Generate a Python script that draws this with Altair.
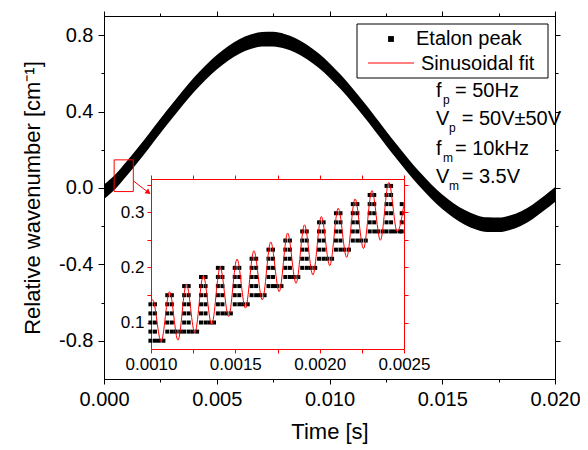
import altair as alt
import pandas as pd

FONT = "Liberation Sans"
RED = "#ff0000"

# ---------------- main trace (centre of the etalon-peak band, read every 0.5 ms) ----------------
main_t = [0.0, 0.0005, 0.001, 0.0015, 0.002, 0.0025, 0.003, 0.0035, 0.004, 0.0045,
          0.005, 0.0055, 0.006, 0.0065, 0.007, 0.0075, 0.008, 0.0085, 0.009, 0.0095,
          0.010, 0.0105, 0.011, 0.0115, 0.012, 0.0125, 0.013, 0.0135, 0.014, 0.0145,
          0.015, 0.0155, 0.016, 0.0165, 0.017, 0.0175, 0.018, 0.0185, 0.019, 0.0195, 0.020]
main_center = [-0.020, 0.032, 0.100, 0.172, 0.247, 0.324, 0.399, 0.472, 0.541, 0.603,
               0.658, 0.704, 0.740, 0.765, 0.778, 0.779, 0.768, 0.746, 0.712, 0.668,
               0.615, 0.554, 0.486, 0.414, 0.339, 0.262, 0.187, 0.114, 0.045, -0.017,
               -0.072, -0.118, -0.154, -0.179, -0.192, -0.193, -0.182, -0.160, -0.126, -0.082, -0.035]
band_half_width = 0.038   # half thickness of the modulated band

# zoom box and arrow in the main panel
zoom_box_t = [0.00045, 0.0013]
zoom_box_v = [-0.019, 0.147]
arrow_t = [0.0013, 0.00197]
arrow_v = [0.037, -0.024]

# ---------------- inset readings ----------------
inset_start = [0.0010, 0.138]
inset_end = [0.0025, 0.315]
inset_peak_t = [0.00101, 0.00111, 0.00121, 0.00131, 0.00141, 0.00151, 0.00161, 0.00171,
                0.00181, 0.00191, 0.00201, 0.00211, 0.00221, 0.00231, 0.00241]
inset_peak_v = [0.141, 0.156, 0.170, 0.185, 0.200, 0.215, 0.230, 0.246,
                0.262, 0.277, 0.292, 0.307, 0.324, 0.339, 0.354]
inset_trough_t = [0.00106, 0.00116, 0.00126, 0.00136, 0.00146, 0.00156, 0.00166, 0.00176,
                  0.00186, 0.00196, 0.00206, 0.00216, 0.00226, 0.00236, 0.00246]
inset_trough_v = [0.0656, 0.068, 0.081, 0.096, 0.111, 0.126, 0.141, 0.156,
                  0.171, 0.186, 0.203, 0.218, 0.234, 0.249, 0.2645]
# quantised wavenumber rows on which the etalon-peak squares sit
dot_levels = [0.067, 0.0835, 0.100, 0.1165, 0.133, 0.1495, 0.166, 0.1825, 0.199,
              0.2155, 0.232, 0.2485, 0.265, 0.2815, 0.298, 0.3145, 0.331, 0.3475]
dot_pair_dt = 0.0000135   # the squares come in side-by-side pairs

# text
legend_labels = ["Etalon peak", "Sinusoidal fit"]
ann_symbol = ["f", "V", "f", "V"]
ann_sub = ["p", "p", "m", "m"]
ann_rest = ["= 50Hz", "= 50V\u00b150V", "= 10kHz", "= 3.5V"]

# ---------------- tables ----------------
main_df = pd.DataFrame({"t": main_t, "c": main_center})
main_df["lo"] = main_df["c"] - band_half_width
main_df["hi"] = main_df["c"] + band_half_width

fit_t = [inset_start[0]]
fit_v = [inset_start[1]]
for pt, pv, tt, tv in zip(inset_peak_t, inset_peak_v, inset_trough_t, inset_trough_v):
    fit_t += [pt, tt]
    fit_v += [pv, tv]
fit_t.append(inset_end[0])
fit_v.append(inset_end[1])
fit_df = pd.DataFrame({"t": fit_t, "v": fit_v})

# squares: a vertical ladder of pairs under every peak (rows between the following
# trough and the peak), plus one pair at the bottom of every valley
dots = []
for k, (pt, pv) in enumerate(zip(inset_peak_t, inset_peak_v)):
    floor = inset_trough_v[k]
    for L in dot_levels:
        if floor < L < pv:
            dots.append({"t": pt - dot_pair_dt, "v": L})
            dots.append({"t": pt + dot_pair_dt, "v": L})
for tt, tv in zip(inset_trough_t, inset_trough_v):
    above = [L for L in dot_levels if L > tv]
    dots.append({"t": tt - dot_pair_dt, "v": above[0]})
    dots.append({"t": tt + dot_pair_dt, "v": above[0]})
for L in dot_levels:
    if inset_trough_v[-1] < L < inset_end[1]:
        dots.append({"t": inset_end[0] - dot_pair_dt, "v": L})
dots_df = pd.DataFrame(dots)

# ---------------- scales ----------------
xs = alt.Scale(domain=[0, 0.02], nice=False, zero=False)
ys = alt.Scale(domain=[-1.0, 0.9], nice=False, zero=False)
ixs = alt.Scale(domain=[0.001, 0.0025], range=[47, 300], nice=False, zero=False)
iys = alt.Scale(domain=[0.052, 0.36], range=[333, 163], nice=False, zero=False)

common = dict(grid=False, domainColor="black", tickColor="black", domainWidth=1, tickWidth=1,
              labelFont=FONT, labelColor="black", labelFontSize=20, titleFont=FONT,
              titleFontSize=22, titleFontWeight="normal", titleColor="black",
              labelFlush=False, labelOverlap=False)

x_major = [0, 0.005, 0.01, 0.015, 0.02]
x_minor = [0.0025, 0.0075, 0.0125, 0.0175]
y_major = [-0.8, -0.4, 0, 0.4, 0.8]
y_minor = [-0.6, -0.2, 0.2, 0.6]

ax_b_major = alt.Axis(orient="bottom", values=x_major, format=".3f", tickSize=5, labelPadding=5,
                      title="Time [s]", titlePadding=12, **common)
ax_l_major = alt.Axis(orient="left", values=y_major, tickSize=6, labelPadding=5,
                      labelExpr="replace(format(datum.value, '.1f'), '\u2212', '-')",
                      title="Relative wavenumber [cm\u207b\u00b9]", titlePadding=14, **common)
ax_b_minor = alt.Axis(orient="bottom", values=x_minor, tickSize=3, labels=False, title=None, **common)
ax_l_minor = alt.Axis(orient="left", values=y_minor, tickSize=3, labels=False, title=None, **common)
ax_t_major = alt.Axis(orient="top", values=x_major, tickSize=5, labels=False, title=None, **common)
ax_r_major = alt.Axis(orient="right", values=y_major, tickSize=5, labels=False, title=None, **common)
ax_t_minor = alt.Axis(orient="top", values=x_minor, tickSize=3, labels=False, title=None, **common)
ax_r_minor = alt.Axis(orient="right", values=y_minor, tickSize=3, labels=False, title=None, **common)

band = alt.Chart(main_df).mark_area(color="black", interpolate="monotone").encode(
    x=alt.X("t:Q", scale=xs, axis=ax_b_major),
    y=alt.Y("lo:Q", scale=ys, axis=ax_l_major),
    y2="hi:Q",
)


def axis_layer(xa, ya):
    return alt.Chart(main_df).mark_line(opacity=0).encode(
        x=alt.X("t:Q", scale=xs, axis=xa),
        y=alt.Y("c:Q", scale=ys, axis=ya),
    )


zoom_df = pd.DataFrame({"t0": [zoom_box_t[0]], "t1": [zoom_box_t[1]],
                        "v0": [zoom_box_v[0]], "v1": [zoom_box_v[1]]})
zoom_rect = alt.Chart(zoom_df).mark_rect(fillOpacity=0, stroke=RED, strokeWidth=1).encode(
    x=alt.X("t0:Q", scale=xs, axis=None), x2="t1:Q",
    y=alt.Y("v0:Q", scale=ys, axis=None), y2="v1:Q",
)
arrow_df = pd.DataFrame({"t": arrow_t, "v": arrow_v})
arrow_line = alt.Chart(arrow_df).mark_line(color=RED, strokeWidth=1).encode(
    x=alt.X("t:Q", scale=xs, axis=None), y=alt.Y("v:Q", scale=ys, axis=None))
arrow_head = alt.Chart(arrow_df.tail(1)).mark_point(
    shape="triangle-up", filled=True, color=RED, opacity=1, size=36, angle=127).encode(
    x=alt.X("t:Q", scale=xs, axis=None), y=alt.Y("v:Q", scale=ys, axis=None))

main_layer = alt.layer(
    band,
    axis_layer(ax_b_minor, ax_l_minor),
    axis_layer(ax_t_major, ax_r_major),
    axis_layer(ax_t_minor, ax_r_minor),
    zoom_rect, arrow_line, arrow_head,
).resolve_axis(x="independent", y="independent")

# ---------------- inset ----------------
icommon = dict(common)
icommon.update(domainColor=RED, tickColor=RED, labelFontSize=17, tickSize=4)
ix_vals = [0.001, 0.00125, 0.0015, 0.00175, 0.002, 0.00225, 0.0025]
iy_vals = [0.1, 0.15, 0.2, 0.25, 0.3, 0.35]
ix_expr = ("indexof(['0.0010','0.0015','0.0020','0.0025'], format(datum.value, '.4f')) >= 0"
           " ? format(datum.value, '.4f') : ''")
iy_expr = ("indexof(['0.10','0.20','0.30'], format(datum.value, '.2f')) >= 0"
           " ? format(datum.value, '.1f') : ''")

inset_dots = alt.Chart(dots_df).mark_point(shape="square", filled=True, color="black",
                                           opacity=1, size=16).encode(
    x=alt.X("t:Q", scale=ixs, axis=alt.Axis(orient="bottom", offset=-30, values=ix_vals,
                                             labelExpr=ix_expr, labelPadding=3, title=None, **icommon)),
    y=alt.Y("v:Q", scale=iys, axis=alt.Axis(orient="left", offset=-47, values=iy_vals,
                                             labelExpr=iy_expr, labelPadding=3, title=None, **icommon)),
)
inset_fit = alt.Chart(fit_df).mark_line(color=RED, strokeWidth=1, interpolate="monotone").encode(
    x=alt.X("t:Q", scale=ixs, axis=alt.Axis(orient="top", offset=-163, values=ix_vals,
                                             labels=False, title=None, **icommon)),
    y=alt.Y("v:Q", scale=iys, axis=alt.Axis(orient="right", offset=-151, values=iy_vals,
                                             labels=False, title=None, **icommon)),
)
inset_layer = alt.layer(inset_dots, inset_fit).resolve_axis(x="independent", y="independent")

# ---------------- legend and annotations ----------------
one = pd.DataFrame({"k": [0]})


def txt(s, x, y, size):
    return alt.Chart(pd.DataFrame({"s": [s]})).mark_text(
        align="left", baseline="alphabetic", font=FONT, fontSize=size, color="black").encode(
        text="s:N", x=alt.value(x), y=alt.value(y))


legend_box = alt.Chart(one).mark_rect(fill="white", stroke="black", strokeWidth=1).encode(
    x=alt.value(253), x2=alt.value(444), y=alt.value(8), y2=alt.value(62))
legend_sq = alt.Chart(one).mark_point(shape="square", filled=True, color="black", opacity=1,
                                      size=34).encode(x=alt.value(287), y=alt.value(23))
legend_ln = alt.Chart(one).mark_rule(color=RED, strokeWidth=1).encode(
    x=alt.value(264), x2=alt.value(310), y=alt.value(47))

decor = [legend_box, legend_sq, legend_ln,
         txt(legend_labels[0], 312, 29, 20), txt(legend_labels[1], 317, 54, 20)]
ann_base = [81, 109, 139, 167]
for sym, sub, rest, yb in zip(ann_symbol, ann_sub, ann_rest, ann_base):
    sub_x = 339 if sym == "f" else 345
    rest_x = 351 if sym == "f" else 357.7
    decor.append(txt(sym, 332, yb, 20))
    decor.append(txt(sub, sub_x, yb + 7, 12))
    decor.append(txt(rest, rest_x, yb, 20))

chart = alt.layer(main_layer, inset_layer, *decor).resolve_scale(
    x="independent", y="independent"
).properties(
    width=451, height=363,
    padding={"left": 96, "top": 8, "right": 25, "bottom": 66},
    autosize=alt.AutoSizeParams(type="none"),
).configure_view(stroke=None)

chart.save("out.html", embed_options={"renderer": "svg", "actions": False})
